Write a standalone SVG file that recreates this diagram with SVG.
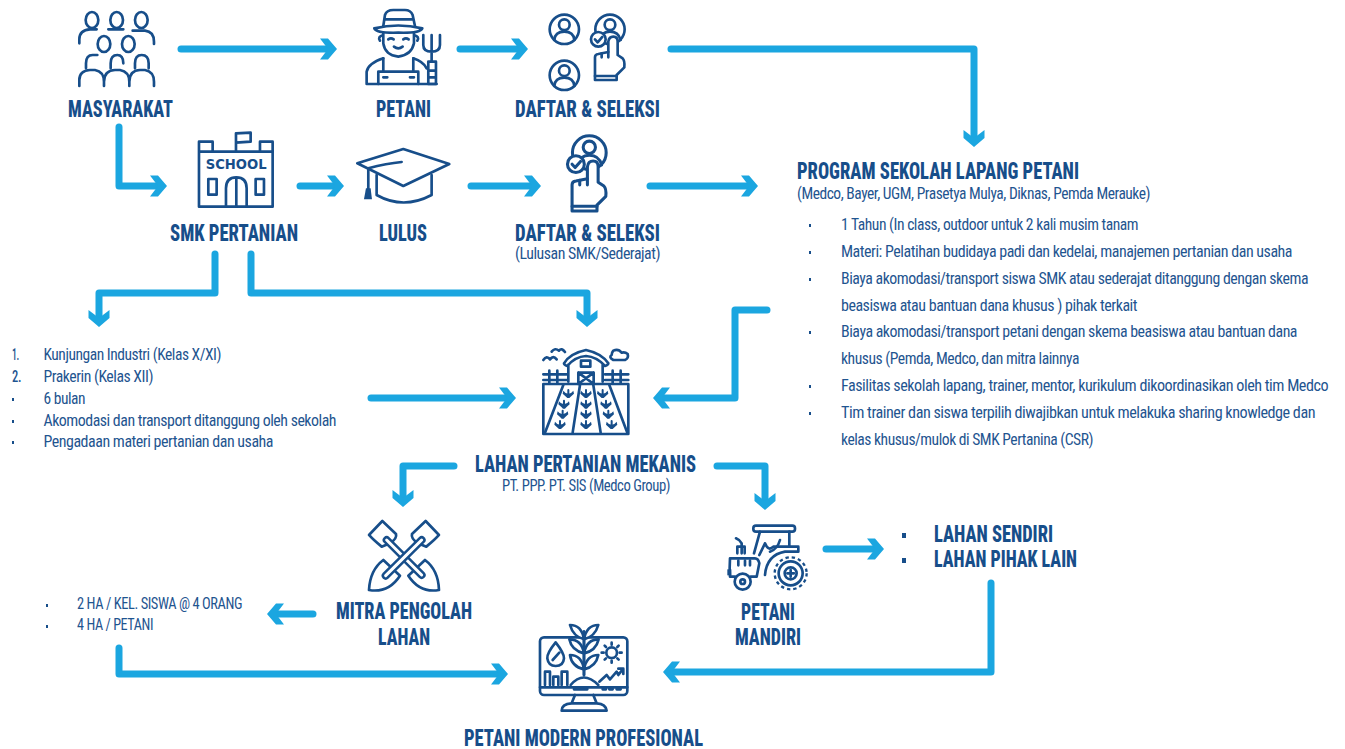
<svg xmlns="http://www.w3.org/2000/svg" width="1345" height="749" viewBox="0 0 1345 749">
<style>
text{font-family:Roboto,"Liberation Sans",sans-serif;font-stretch:75%;fill:#1f5590}
.h{font-size:24px;font-weight:800;fill:#174e8a}
.b{font-size:16.500px;letter-spacing:-.5px}
.i{fill:none;stroke:#174e8a;stroke-width:8;stroke-linecap:round;stroke-linejoin:round}
.w{fill:#fff}
.n{fill:#174e8a;stroke:none}
.c{fill:none;stroke:#1ba6e0;stroke-width:7;stroke-linecap:round;stroke-linejoin:round;marker-end:url(#a)}
.d{fill:#174e8a}
</style>
<defs>
<marker id="a" markerUnits="userSpaceOnUse" markerWidth="30" markerHeight="26" viewBox="-22 -13 30 26" refX="0" refY="0" orient="auto">
<polygon points="-11,-10.500 -3,-10.500 6,0 -3,10.500 -11,10.500 -3,0" fill="#1ba6e0"/>
</marker>
<g id="u"><circle cx="313" cy="88" r="44"/><circle cx="313" cy="74" r="16"/><path d="M283 120Q285 95 313 95Q341 95 343 120"/></g>
<g id="hand">
<circle cx="450" cy="88" r="44"/><circle cx="450" cy="74" r="16"/><path d="M420 120Q425 95 450 95Q475 95 482 120"/>
<path class="w" d="M405 240V172Q405 163 415 162L445 156V125Q447 110 460 110Q473 110 473 125V165L488 175Q495 182 493 202L470 225V240Z"/>
<circle class="w" cx="415" cy="118" r="22"/><path d="M405 118L413 127L427 111"/>
<path d="M405 228H470M425 160V172M445 156V172"/>
</g>
<g id="p"><path d="M0 -10V10" style="stroke-width:6"/><path class="n" d="M-15 -8Q-10 0 0 1Q10 0 15 -8L17 1Q8 9 3 14H-3Q-8 9 -17 1Z"/></g>
</defs>

<g id="connectors">
<path class="c" d="M181 49H331"/>
<path class="c" d="M460 49H522"/>
<path class="c" d="M671 49H974V141"/>
<path class="c" d="M119 127V186H161"/>
<path class="c" d="M300 186H338"/>
<path class="c" d="M471 186H535"/>
<path class="c" d="M650 186H752"/>
<path class="c" d="M215 254V293H99V321"/>
<path class="c" d="M251 254V293H587V321"/>
<path class="c" d="M371 398H510"/>
<path class="c" d="M767 310H735V398H659"/>
<path class="c" d="M454 466H403V501"/>
<path class="c" d="M717 466H765V504"/>
<path class="c" d="M826 549H878"/>
<path class="c" d="M313 614H273"/>
<path class="c" d="M119 648V674H502"/>
<path class="c" d="M991 583V672H669"/>
</g>

<g id="masyarakat">
<g transform="translate(40 0) scale(.3333)" class="i">
<ellipse cx="156" cy="60" rx="19" ry="24"/><ellipse cx="230" cy="60" rx="19" ry="24"/><ellipse cx="304" cy="60" rx="19" ry="24"/>
<path d="M118 130V118Q118 90 150 88H170M205 88H250M278 92H315Q342 95 342 125V132"/>
<path d="M138 205V190Q138 165 158 165H172M212 205V190Q212 165 232 165Q250 165 250 190M285 205V190Q285 165 305 165Q326 165 326 190V205"/>
<ellipse class="w" cx="192" cy="132" rx="19" ry="24"/><ellipse class="w" cx="265" cy="132" rx="19" ry="24"/>
<path d="M118 258V240Q118 212 150 210H165Q192 215 192 245V258M192 245Q192 212 225 210H240Q268 215 268 245V258M268 245Q268 212 300 210H315Q342 215 342 245V258"/>
</g>
<text class="h" x="68" y="117" textLength="105" lengthAdjust="spacingAndGlyphs">MASYARAKAT</text>
</g>

<g id="petani">
<g transform="translate(40 0) scale(.3333)" class="i">
<path d="M1030 78L1035 45Q1040 30 1060 30H1095Q1112 30 1118 45L1125 78M1035 58H1115"/>
<path d="M1003 85Q1075 68 1147 85Q1140 100 1075 98Q1010 100 1003 85Z"/>
<path d="M1030 100V130Q1035 165 1075 170Q1115 165 1122 130V100M1030 105Q1012 110 1020 122M1122 105Q1140 110 1132 122"/>
<path d="M1045 118q8 -6 16 0M1090 118q8 -6 16 0M1062 140q13 10 26 0"/>
<path d="M980 252V215Q985 190 1030 175M1120 175Q1150 185 1160 205M980 252H1190"/>
<path d="M1015 252V215H1135V252M1030 175V215M1120 175V215M1030 232h12M1110 232h12"/>
<path d="M1165 185H1188V252H1165ZM1165 212H1188M1165 232H1188"/>
<path d="M1150 105V135Q1150 155 1175 155Q1200 155 1200 135V105M1175 105V185"/>
</g>
<text class="h" x="376" y="117" textLength="55" lengthAdjust="spacingAndGlyphs">PETANI</text>
</g>

<g id="daftar-seleksi-1">
<g transform="translate(460 0) scale(.3333)" class="i">
<use href="#u"/><use href="#u" y="138"/><use href="#hand"/>
</g>
<text class="h" x="515" y="117" textLength="145" lengthAdjust="spacingAndGlyphs">DAFTAR &amp; SELEKSI</text>
</g>

<g id="smk-pertanian">
<g transform="translate(40 0) scale(.3333)">
<g class="i">
<path d="M477 455V425H518V455M660 455V425H698V455M477 455H698V620H477ZM588 455V400L632 398V425L588 428"/>
<rect x="505" y="537" width="25" height="47"/><rect x="647" y="537" width="25" height="47"/>
<path d="M558 620V565Q558 532 589 532Q620 532 620 565V620M589 532V620"/>
</g>
<text x="497" y="506" font-size="40" font-weight="700" textLength="183" lengthAdjust="spacingAndGlyphs" style="fill:#174e8a;font-family:'DejaVu Sans',sans-serif;font-stretch:normal">SCHOOL</text>
</g>
<text class="h" x="170" y="241" textLength="128" lengthAdjust="spacingAndGlyphs">SMK PERTANIAN</text>
</g>

<g id="lulus">
<g transform="translate(40 0) scale(.3333)" class="i">
<path d="M952 490L1090 447L1228 492L1090 558Z"/>
<path d="M1010 525V585Q1090 630 1175 585V525M985 505Q1040 490 1085 486M985 505V570"/>
<path class="n" d="M978 565H992L996 598H972Z"/>
</g>
<text class="h" x="379" y="241" textLength="48" lengthAdjust="spacingAndGlyphs">LULUS</text>
</g>

<g id="daftar-seleksi-2">
<g transform="translate(460 0) scale(.3333)" class="i">
<use href="#hand" transform="translate(388 458) scale(1.15) translate(-450 -88)"/>
</g>
<text class="h" x="515" y="241" textLength="145" lengthAdjust="spacingAndGlyphs">DAFTAR &amp; SELEKSI</text>
<text class="b" x="515" y="259" textLength="145" lengthAdjust="spacingAndGlyphs">(Lulusan SMK/Sederajat)</text>
</g>

<g id="program-sekolah">
<text class="h" x="797" y="179" textLength="282" lengthAdjust="spacingAndGlyphs">PROGRAM SEKOLAH LAPANG PETANI</text>
<text class="b" x="797" y="199" textLength="353" lengthAdjust="spacingAndGlyphs">(Medco, Bayer, UGM, Prasetya Mulya, Diknas, Pemda Merauke)</text>
<g class="d">
<rect x="809" y="224" width="2" height="3"/><rect x="809" y="251" width="2" height="3"/><rect x="809" y="278" width="2" height="3"/><rect x="809" y="331" width="2" height="3"/><rect x="809" y="385" width="2" height="3"/><rect x="809" y="412" width="2" height="3"/>
</g>
<text class="b" x="841" y="230" textLength="297" lengthAdjust="spacingAndGlyphs">1 Tahun (In class, outdoor untuk 2 kali musim tanam</text>
<text class="b" x="841" y="257" textLength="451" lengthAdjust="spacingAndGlyphs">Materi: Pelatihan budidaya padi dan kedelai, manajemen pertanian dan usaha</text>
<text class="b" x="841" y="284" textLength="467" lengthAdjust="spacingAndGlyphs">Biaya akomodasi/transport siswa SMK atau sederajat ditanggung dengan skema</text>
<text class="b" x="841" y="311" textLength="296" lengthAdjust="spacingAndGlyphs">beasiswa atau bantuan dana khusus ) pihak terkait</text>
<text class="b" x="841" y="337" textLength="456" lengthAdjust="spacingAndGlyphs">Biaya akomodasi/transport petani dengan skema beasiswa atau bantuan dana</text>
<text class="b" x="841" y="364" textLength="238" lengthAdjust="spacingAndGlyphs">khusus (Pemda, Medco, dan mitra lainnya</text>
<text class="b" x="841" y="391" textLength="487" lengthAdjust="spacingAndGlyphs">Fasilitas sekolah lapang, trainer, mentor, kurikulum dikoordinasikan oleh tim Medco</text>
<text class="b" x="841" y="418" textLength="474" lengthAdjust="spacingAndGlyphs">Tim trainer dan siswa terpilih diwajibkan untuk melakuka sharing knowledge dan</text>
<text class="b" x="841" y="445" textLength="252" lengthAdjust="spacingAndGlyphs">kelas khusus/mulok di SMK Pertanina (CSR)</text>
</g>

<g id="kunjungan-list">
<text class="b" x="12" y="360" textLength="7" lengthAdjust="spacingAndGlyphs" style="font-weight:500">1.</text>
<text class="b" x="12" y="382" textLength="9" lengthAdjust="spacingAndGlyphs" style="font-weight:500">2.</text>
<g class="d"><rect x="12" y="398" width="2" height="3"/><rect x="12" y="420" width="2" height="3"/><rect x="12" y="441" width="2" height="3"/></g>
<text class="b" x="43.500" y="360" textLength="177.500" lengthAdjust="spacingAndGlyphs">Kunjungan Industri (Kelas X/XI)</text>
<text class="b" x="43.500" y="382" textLength="109.500" lengthAdjust="spacingAndGlyphs">Prakerin (Kelas XII)</text>
<text class="b" x="43.500" y="404" textLength="41.500" lengthAdjust="spacingAndGlyphs">6 bulan</text>
<text class="b" x="43.500" y="426" textLength="292.500" lengthAdjust="spacingAndGlyphs">Akomodasi dan transport ditanggung oleh sekolah</text>
<text class="b" x="43.500" y="447" textLength="229.500" lengthAdjust="spacingAndGlyphs">Pengadaan materi pertanian dan usaha</text>
</g>

<g id="lahan-pertanian">
<g transform="translate(480 330) scale(.3333)" class="i">
<rect x="190" y="162" width="255" height="150"/>
<path d="M250 165L195 308M300 165L278 308M340 165L362 308M388 165L442 308"/>
<path d="M265 155V104M368 155V104M252 100Q270 70 318 60Q365 70 385 100Q385 105 375 108Q350 80 318 78Q285 80 262 108Q252 105 252 100Z"/>
<rect x="303" y="92" width="28" height="18"/>
<path d="M295 162V128H341V162M295 128L341 162M341 128L295 162"/>
<path d="M190 133H260M190 150H260M208 122V160M232 122V160M375 133H445M375 150H445M398 122V160M422 122V160"/>
<path d="M190 90Q200 75 210 88Q220 75 230 88M215 65Q225 52 237 62Q245 52 255 66"/>
<path d="M400 90H435Q447 85 443 72Q435 65 425 68Q415 55 400 62Q395 68 395 75Q385 82 400 90Z"/>
<use href="#p" x="265" y="190"/><use href="#p" x="318" y="190"/><use href="#p" x="368" y="190"/>
<use href="#p" x="252" y="222"/><use href="#p" x="318" y="222"/><use href="#p" x="378" y="222"/>
<use href="#p" x="248" y="252"/><use href="#p" x="318" y="252"/><use href="#p" x="385" y="252"/>
<use href="#p" x="240" y="283"/><use href="#p" x="318" y="283"/><use href="#p" x="395" y="283"/>
</g>
<text class="h" x="475" y="472" textLength="221" lengthAdjust="spacingAndGlyphs">LAHAN PERTANIAN MEKANIS</text>
<text class="b" x="502" y="491" textLength="168" lengthAdjust="spacingAndGlyphs">PT. PPP. PT. SIS (Medco Group)</text>
</g>

<g id="mitra-pengolah">
<g transform="translate(320 510) scale(.3333)" class="i">
<path d="M190 150Q150 180 147 240Q205 250 240 197Z"/>
<path d="M315 150Q355 180 357 240Q300 250 265 197Z"/>
<path d="M147 75L187 33L228 72Q232 85 210 100L185 110Q160 90 147 75Z"/>
<path d="M357 75L317 33L276 72Q272 85 294 100L319 110Q344 90 357 75Z"/>
<path style="stroke-width:24" d="M200 90L305 195"/>
<path style="stroke:#fff;stroke-width:9" d="M200 90L305 195"/>
<path style="stroke-width:24" d="M305 90L197 197"/>
<path style="stroke:#fff;stroke-width:9" d="M305 90L197 197"/>
</g>
<text class="h" x="336" y="619" textLength="136" lengthAdjust="spacingAndGlyphs">MITRA PENGOLAH</text>
<text class="h" x="378" y="645" textLength="52" lengthAdjust="spacingAndGlyphs">LAHAN</text>
</g>

<g id="petani-mandiri">
<g transform="translate(700 510) scale(.3333)" class="i">
<rect x="160" y="47" width="125" height="18" rx="8"/>
<path d="M180 65L162 130M268 65V110"/>
<path d="M105 200H90Q88 175 90 145H165Q175 145 178 160L170 200H152"/>
<path d="M125 130V100Q120 90 108 85M112 130V110H134V130"/>
<path d="M115 152v14M135 152v14M150 152v14"/>
<circle cx="128" cy="215" r="24"/><circle cx="128" cy="215" r="7"/>
<circle cx="272" cy="190" r="36"/><circle cx="272" cy="190" r="48" style="stroke-width:7;stroke-dasharray:10 9;stroke-linecap:butt"/><circle cx="272" cy="190" r="18"/>
<path d="M272 180V200M262 190H282"/>
<path d="M195 195Q200 135 255 125H295V110H220Q205 125 195 100L178 135"/>
<path d="M210 125Q232 118 240 90"/>
<rect class="n" x="82" y="178" width="12" height="18"/>
</g>
<text class="h" x="741" y="620" textLength="54" lengthAdjust="spacingAndGlyphs">PETANI</text>
<text class="h" x="735" y="645" textLength="66" lengthAdjust="spacingAndGlyphs">MANDIRI</text>
</g>

<g id="lahan-list">
<rect class="d" x="902" y="533" width="4" height="5"/><rect class="d" x="902" y="558" width="4" height="5"/>
<text class="h" x="934" y="542" textLength="119" lengthAdjust="spacingAndGlyphs">LAHAN SENDIRI</text>
<text class="h" x="934" y="567" textLength="143" lengthAdjust="spacingAndGlyphs">LAHAN PIHAK LAIN</text>
</g>

<g id="mitra-list">
<rect class="d" x="46" y="604" width="2" height="3"/><rect class="d" x="46" y="625" width="2" height="3"/>
<text class="b" x="77" y="609" textLength="165" lengthAdjust="spacingAndGlyphs">2 HA / KEL. SISWA @ 4 ORANG</text>
<text class="b" x="77" y="630" textLength="76" lengthAdjust="spacingAndGlyphs">4 HA / PETANI</text>
</g>

<g id="petani-modern">
<g transform="translate(450 610) scale(.3333)" class="i">
<rect x="270" y="82" width="262" height="173" rx="12"/>
<path d="M270 232H532M372 238H412M458 238h10M478 238h10M500 238h12"/>
<path d="M375 255L365 280M430 255L440 280M335 302Q335 282 365 280H440Q468 282 470 302Z"/>
<path d="M402 65V195M362 225Q400 180 445 225"/>
<path class="w" d="M402 88Q370 80 360 45Q395 45 402 88ZM402 88Q435 80 445 45Q410 45 402 88ZM402 130Q365 122 358 88Q395 88 402 130ZM402 130Q438 122 446 88Q410 88 402 130ZM402 178Q365 170 360 135Q395 135 402 178ZM402 178Q438 170 445 135Q410 135 402 178Z"/>
<path d="M402 65V195"/>
<path d="M317 97Q290 130 292 145Q295 168 317 168Q340 168 342 145Q343 130 317 97ZM308 150L328 128"/>
<circle cx="485" cy="128" r="16"/>
<path d="M485 98v6M485 152v6M455 128h6M509 128h6M464 107l4 4M502 145l4 4M506 107l-4 4M468 145l-4 4"/>
<path d="M285 225V185H300V225M310 225V200H325V225M335 225V185H352V225"/>
<path d="M448 215L470 195L480 208L500 185L505 195L518 178M505 176H520V192"/>
</g>
<text class="h" x="464" y="746" textLength="239" lengthAdjust="spacingAndGlyphs">PETANI MODERN PROFESIONAL</text>
</g>
</svg>
